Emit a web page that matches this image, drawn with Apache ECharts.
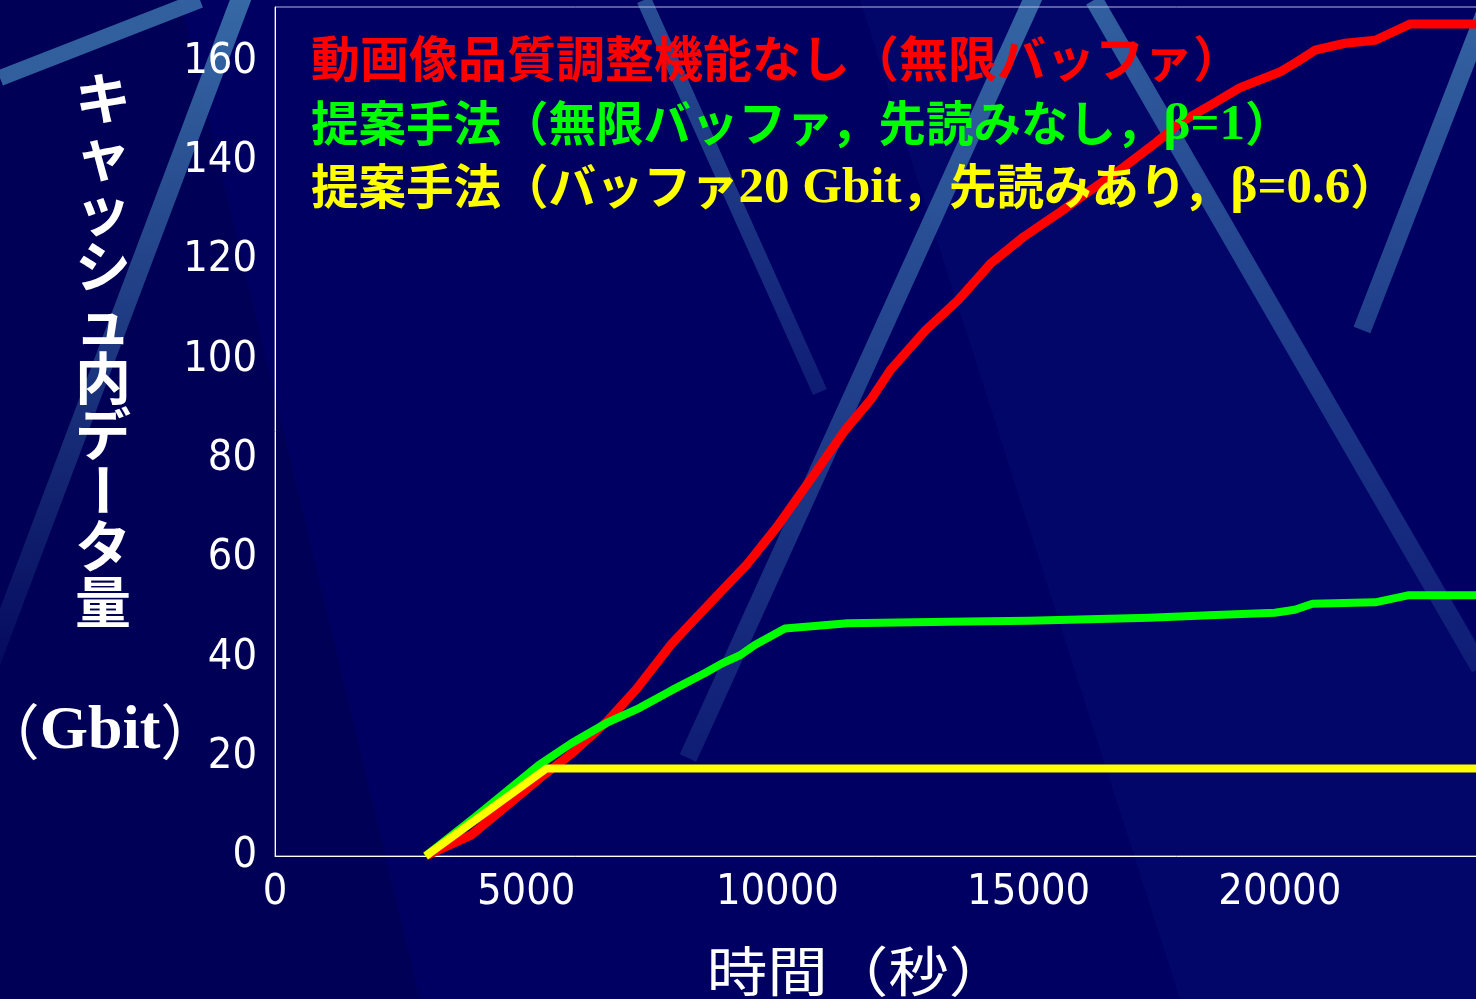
<!DOCTYPE html>
<html>
<head>
<meta charset="utf-8">
<script src="https://cdn.jsdelivr.net/npm/echarts@6/dist/echarts.min.js"></script>
<style>
  html, body { margin: 0; padding: 0; background: #000063; overflow: hidden; }
  #chart { width: 1476px; height: 999px; }
</style>
</head>
<body>
<div id="chart"></div>
<script>
// Cached data volume over time for three cache strategies
const xMax = 25000;
const xTicks = [0, 5000, 10000, 15000, 20000];
const yMax = 171;
const yTicks = [0, 20, 40, 60, 80, 100, 120, 140, 160];

const seriesNames = [
  '動画像品質調整機能なし（無限バッファ）',
  '提案手法（無限バッファ，先読みなし，β=1）',
  '提案手法（バッファ20 Gbit，先読みあり，β=0.6）'
];

// [time (s), cached data (Gbit)]
const noQualityControl = [
  [3000, 0], [3900, 4.2], [4600, 10], [5300, 15.9], [5900, 20.6], [6600, 27],
  [7200, 33.7], [7900, 42.8], [8600, 50.3], [9100, 55.6], [9400, 58.8], [10000, 66.4],
  [10700, 76.4], [11350, 85.8], [11850, 91.8], [12250, 97.9], [12950, 105.9],
  [13600, 112], [14250, 119.4], [14900, 124.7], [15600, 129.5], [16250, 134.2],
  [16900, 138.8], [17550, 143.8], [18000, 147.6], [18700, 151.7], [19200, 154.7],
  [20000, 157.9], [20350, 160], [20700, 162.3], [21300, 163.7], [21900, 164.3],
  [22600, 167.6], [24000, 167.6]
];
const proposedUnlimited = [
  [3000, 0], [4000, 8], [5250, 18.3], [5900, 22.7], [6600, 26.8], [7250, 29.8],
  [7900, 33.4], [8550, 36.8], [8900, 38.8], [9250, 40.4], [9550, 42.5],
  [10150, 45.8], [11400, 46.9], [13400, 47.2], [15000, 47.4], [17400, 48],
  [18600, 48.5], [19900, 49], [20300, 49.6], [20650, 50.8], [21900, 51.1],
  [22550, 52.5], [24000, 52.5]
];
const proposedBuffered = [
  [3000, 0], [5400, 17.6], [24000, 17.6]
];

const lineColors = ['#ff0000', '#00ff00', '#ffff00'];
const lineWidths = [9, 8, 8];

const yTitle = 'キャッシュ内データ量';
const xTitle = '時間（秒）';

const chart = echarts.init(document.getElementById('chart'), null, { renderer: 'canvas' });

// diagonal light streaks of the slide backdrop
function streak(x1, y1, x2, y2, w, a1, a2) {
  return {
    type: 'line', z: -10, silent: true,
    shape: { x1, y1, x2, y2 },
    style: {
      lineWidth: w, lineCap: 'butt',
      stroke: new echarts.graphic.LinearGradient(0, y1 < y2 ? 0 : 1, 0, y1 < y2 ? 1 : 0, [
        { offset: 0, color: 'rgba(58,112,170,' + a1 + ')' },
        { offset: 1, color: 'rgba(58,112,170,' + a2 + ')' }
      ])
    }
  };
}

const backdrop = [
  { type: 'polygon', z: -20, silent: true,
    shape: { points: [[860, 0], [1100, 0], [1476, 640], [1476, 999], [1180, 999]] },
    style: { fill: 'rgba(10,20,120,0.3)' } },
  { type: 'polygon', z: -20, silent: true,
    shape: { points: [[0, 0], [180, 0], [420, 999], [0, 999]] },
    style: { fill: 'rgba(0,0,60,0.3)' } },
  streak(0, 78, 200, 0, 16, 0.85, 0.85),
  streak(242, -4, -20, 690, 20, 0.95, 0.05),
  streak(644, 0, 820, 392, 15, 0.7, 0.25),
  streak(1034, -4, 688, 758, 18, 0.9, 0.25),
  streak(1094, 0, 1480, 668, 18, 0.85, 0.2),
  streak(1490, 0, 1362, 330, 18, 0.9, 0.55)
];

// vertical y-axis title, one glyph per row; the long-vowel mark is turned upright
const yTitleEls = yTitle.split('').map((ch, i) => ({
  type: 'text', z: 50, silent: true,
  x: 103, y: 98 + i * 56,
  rotation: ch === 'ー' ? -Math.PI / 2 : 0,
  style: {
    text: ch, fill: '#ffffff', align: 'center', verticalAlign: 'middle',
    font: 'bold 56px "Noto Sans CJK JP"'
  }
}));

const legendRich = {
  h: { fontFamily: 'Noto Sans CJK JP', fontWeight: 'bold', fontSize: 49, lineHeight: 62, verticalAlign: 'middle' },
  j: { fontFamily: 'Noto Sans CJK JP', fontWeight: 'bold', fontSize: 47.5, lineHeight: 62, verticalAlign: 'middle' },
  t: { fontFamily: 'Liberation Serif', fontWeight: 'bold', fontSize: 51, lineHeight: 62, verticalAlign: 'middle',
       padding: [6, 0, 0, 0] }
};
function legendText(parts) {
  return parts.map(p => '{' + p[0] + '|' + p[1] + '}').join('');
}
const legendLines = [
  [['h', '動画像品質調整機能なし（無限バッファ）']],
  [['j', '提案手法（無限バッファ，先読みなし，'], ['t', 'β=1'], ['j', '）']],
  [['j', '提案手法（バッファ'], ['t', '20 Gbit'], ['j', '，先読みあり，'], ['t', 'β=0.6'], ['j', '）']]
];
const legendEls = legendLines.map((parts, i) => ({
  type: 'text', z: 100, silent: true,
  x: 311, y: [58, 123, 186][i],
  style: {
    text: legendText(parts), rich: legendRich,
    fill: lineColors[i], verticalAlign: 'middle', align: 'left'
  }
}));

const option = {
  backgroundColor: 'transparent',
  animation: false,
  grid: {
    left: 275, top: 7, right: -55, bottom: 143,
    outerBoundsMode: 'none', containLabel: false,
    show: true, borderColor: '#b8b8d8', borderWidth: 1, backgroundColor: 'transparent'
  },
  xAxis: {
    type: 'value', min: 0, max: xMax, interval: 5000,
    axisLine: { show: true, onZero: false, lineStyle: { color: '#ffffff', width: 1 } },
    axisTick: { show: false },
    splitLine: { show: false },
    axisLabel: {
      color: '#ffffff', fontSize: 43, margin: 15,
      fontFamily: '"DejaVu Sans Condensed", "Noto Sans", sans-serif',
      formatter: v => xTicks.includes(v) ? String(v) : ''
    }
  },
  yAxis: {
    type: 'value', min: 0, max: yMax, interval: 20,
    axisLine: { show: true, lineStyle: { color: '#ffffff', width: 1 } },
    axisTick: { show: false },
    splitLine: { show: false },
    axisLabel: {
      color: '#ffffff', fontSize: 43, margin: 18,
      fontFamily: '"DejaVu Sans Condensed", "Noto Sans", sans-serif',
      formatter: v => yTicks.includes(v) ? String(v) : ''
    }
  },
  series: [noQualityControl, proposedUnlimited, proposedBuffered].map((d, i) => ({
    name: seriesNames[i], type: 'line', data: d,
    showSymbol: false, symbol: 'none', smooth: false,
    lineStyle: { color: lineColors[i], width: lineWidths[i], join: 'round', cap: 'butt' },
    z: 2 + i
  })),
  graphic: [
    ...backdrop,
    ...yTitleEls,
    { type: 'text', z: 50, silent: true, x: 100, y: 732,
      style: { text: '{p|（}{t|Gbit}{p|）}', align: 'center', verticalAlign: 'middle', fill: '#ffffff',
        rich: {
          p: { fontFamily: 'Noto Sans CJK JP', fontSize: 60, fill: '#ffffff' },
          t: { fontFamily: 'Liberation Serif', fontWeight: 'bold', fontSize: 62, fill: '#ffffff' }
        } } },
    { type: 'text', z: 50, silent: true, x: 858, y: 971, scaleX: 1.12,
      style: { text: xTitle, fill: '#ffffff', align: 'center', verticalAlign: 'middle',
        font: '54px "Noto Sans CJK JP"' } },
    ...legendEls
  ]
};
chart.setOption(option);
</script>
</body>
</html>
